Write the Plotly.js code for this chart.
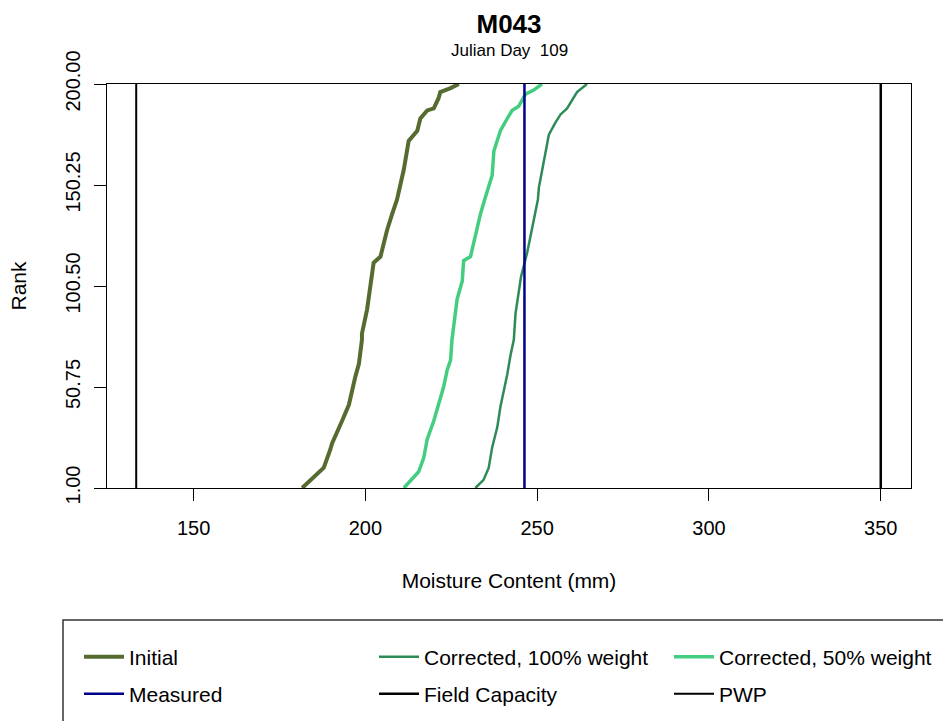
<!DOCTYPE html>
<html>
<head>
<meta charset="utf-8">
<script src="https://cdn.plot.ly/plotly-3.0.1.min.js"></script>
<style>html,body{margin:0;padding:0;background:#fff;}#chart{width:943px;height:721px;}</style>
</head>
<body>
<div id="chart"></div>
<script>
// Ranked moisture content (mm)
var rankInitial = [1, 11, 20, 23, 34, 42, 56, 62, 74, 77, 89, 102, 112, 115, 122, 128, 136, 143, 158, 172, 177, 183, 187, 188, 193, 196, 198, 200];
var valInitial  = [181.6, 187.9, 189.8, 190.3, 193.2, 195.2, 197.1, 198.1, 199.0, 199.0, 200.5, 201.5, 202.4, 204.4, 205.3, 206.3, 207.8, 209.2, 211.2, 212.6, 215.1, 216.0, 218.0, 219.9, 221.3, 221.8, 224.8, 227.2];

var rankCorr100 = [1, 5, 11, 21, 31, 41, 49, 57, 66, 74, 87, 97, 105, 117, 125, 133, 143, 149, 165, 175, 181, 185, 188, 191, 196, 200];
var valCorr100  = [232.0, 234.4, 235.9, 236.9, 238.4, 239.3, 240.3, 241.3, 242.2, 243.2, 243.7, 244.6, 245.3, 247.1, 248.0, 249.0, 250.2, 250.5, 252.4, 253.4, 255.3, 256.8, 258.7, 259.7, 261.6, 264.5];

var rankCorr50 = [1, 9, 16, 25, 34, 42, 51, 59, 64, 74, 80, 94, 103, 113, 115, 122, 130, 136, 143, 155, 167, 177, 183, 187, 189, 192, 195, 197, 200];
var valCorr50  = [211.2, 215.5, 217.0, 218.0, 219.9, 221.3, 222.8, 223.8, 224.8, 225.2, 225.7, 226.7, 228.2, 228.6, 230.6, 231.5, 232.5, 233.5, 234.7, 236.9, 237.4, 239.3, 241.3, 242.7, 244.6, 245.6, 246.6, 249.0, 251.4];

var measured = 246.3;
var fieldCapacity = 350;
var pwp = 133.3;
var rankRange = [1, 200];

var xTicks = [150, 200, 250, 300, 350];
var yTicks = [1, 50.75, 100.5, 150.25, 200];
var yTickText = ['1.00', '50.75', '100.50', '150.25', '200.00'];

var FONT = 'Liberation Sans, Arial, sans-serif';

var traces = [
  {x: valInitial, y: rankInitial, name: 'Initial', mode: 'lines', line: {color: '#556B2F', width: 4}, legend: 'legend'},
  {x: valCorr100, y: rankCorr100, name: 'Corrected, 100% weight', mode: 'lines', line: {color: '#2E8B57', width: 2.5}, legend: 'legend2'},
  {x: valCorr50, y: rankCorr50, name: 'Corrected, 50% weight', mode: 'lines', line: {color: '#43CD80', width: 3.5}, legend: 'legend3'},
  {x: [measured, measured], y: rankRange, name: 'Measured', mode: 'lines', line: {color: '#00008B', width: 2.5}, legend: 'legend4'},
  {x: [fieldCapacity, fieldCapacity], y: rankRange, name: 'Field Capacity', mode: 'lines', line: {color: '#000000', width: 2.5}, legend: 'legend5'},
  {x: [pwp, pwp], y: rankRange, name: 'PWP', mode: 'lines', line: {color: '#000000', width: 2}, legend: 'legend6'}
];

function leg(px, py) {
  return {
    orientation: 'h', xref: 'container', yref: 'container',
    xanchor: 'left', yanchor: 'middle', x: px / 943, y: 1 - py / 721,
    itemwidth: 40,
    font: {family: FONT, size: 21, color: '#000'},
    bgcolor: 'rgba(0,0,0,0)', borderwidth: 0
  };
}

var layout = {
  width: 943, height: 721,
  margin: {l: 107, r: 32, t: 84, b: 233},
  paper_bgcolor: '#fff', plot_bgcolor: '#fff',
  font: {family: FONT, color: '#000'},
  showlegend: true,
  title: {text: '<b>M043</b>', font: {family: FONT, size: 26, color: '#000'}, x: 509 / 943, xanchor: 'center', y: 1 - 24/721, yanchor: 'middle', xref: 'container', yref: 'container'},
  xaxis: {
    range: [124.8, 358.8], tickvals: xTicks, ticks: 'outside', ticklen: 12, tickwidth: 1, tickcolor: '#000',
    showline: true, mirror: true, linecolor: '#000', linewidth: 1, showgrid: false, zeroline: false,
    tickfont: {family: FONT, size: 20, color: '#000'}, ticklabelstandoff: 10,
    title: {text: 'Moisture Content (mm)', font: {family: FONT, size: 21, color: '#000'}, standoff: 35}
  },
  yaxis: {
    range: [1, 200], tickvals: yTicks, ticktext: yTickText, tickangle: -90, ticks: 'outside', ticklen: 12, tickwidth: 1, tickcolor: '#000',
    showline: true, mirror: true, linecolor: '#000', linewidth: 1, showgrid: false, zeroline: false,
    tickfont: {family: FONT, size: 20, color: '#000'}, ticklabelstandoff: 6,
    title: {text: 'Rank', font: {family: FONT, size: 21, color: '#000'}, standoff: 29}
  },
  legend: leg(79, 657),
  legend2: leg(374, 657),
  legend3: leg(669, 657),
  legend4: leg(79, 694),
  legend5: leg(374, 694),
  legend6: leg(669, 694),
  annotations: [
    {text: 'Julian Day\u00a0 109', xref: 'paper', yref: 'paper', x: 0.5, y: 1 - (51 - 84) / 404, xanchor: 'center', yanchor: 'middle', showarrow: false, font: {family: FONT, size: 17, color: '#000'}}
  ],
  shapes: [
    {type: 'rect', xref: 'paper', yref: 'paper', x0: (63 - 107) / 804, x1: (960 - 107) / 804, y0: 1 - (620 - 84) / 404, y1: 1 - (740 - 84) / 404, line: {color: '#333', width: 1.5}, fillcolor: 'rgba(0,0,0,0)', layer: 'below'}
  ]
};

Plotly.newPlot('chart', traces, layout, {displayModeBar: false, staticPlot: true});
</script>
</body>
</html>
